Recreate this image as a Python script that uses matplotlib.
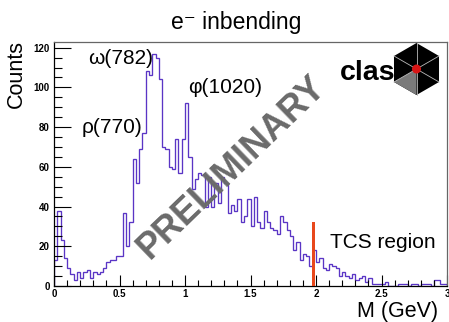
import numpy as np
import matplotlib
matplotlib.use("Agg")
import matplotlib.pyplot as plt
from matplotlib.patches import Circle, Polygon
from matplotlib.ticker import MultipleLocator, FuncFormatter

plt.rcParams['font.family'] = ['Liberation Sans', 'DejaVu Sans']

# ---- data ----
x_min, x_max, n_bins = 0.0, 3.0, 120
counts_0_20 = [13, 38, 23, 14, 9, 6, 3, 7, 4, 7, 8, 4, 7, 6, 7, 9, 12, 13, 13, 15, 15]
counts_21_40 = [37, 20, 32, 64, 52, 69, 77, 108, 106, 117, 115, 104, 70, 69, 60, 59, 74, 57, 74, 92]
counts_41_60 = [65, 49, 54, 57, 56, 40, 55, 40, 52, 42, 55, 52, 37, 41, 38, 44, 32, 35, 44, 30]
counts_61_80 = [45, 32, 29, 38, 32, 29, 28, 26, 35, 32, 28, 25, 18, 22, 13, 16, 15, 10, 18, 12]
counts_81_100 = [14, 9, 8, 11, 10, 9, 5, 7, 5, 4, 6, 3, 4, 5, 2, 4, 1, 1, 1, 1]
counts_101_119 = [2, 0, 0, 0, 1, 1, 1, 0, 1, 1, 0, 1, 1, 1, 0, 3, 3, 1, 1]
counts = np.array(counts_0_20 + counts_21_40 + counts_41_60 + counts_61_80 +
                  counts_81_100 + counts_101_119, dtype=float)
edges = np.linspace(x_min, x_max, n_bins + 1)

tcs_x = 1.98
tcs_height = 32

peak_labels = ["ω(782)", "ρ(770)", "φ(1020)"]

# ---- figure ----
W, H = 449, 322
fig = plt.figure(figsize=(W / 100, H / 100), dpi=100)
L, R, T, B = 54, 447, 42, 286
ax = fig.add_axes([L / W, 1 - B / H, (R - L) / W, (B - T) / H])

ax.stairs(counts, edges, baseline=0, color='#5a35c5', lw=0.95, fill=False)
ax.bar([tcs_x], [tcs_height], width=0.025, color='#e8481c', align='center', zorder=3)

ax.set_xlim(x_min, x_max)
ax.set_ylim(0, counts.max() * 1.05)

ax.xaxis.set_major_locator(MultipleLocator(0.5))
ax.xaxis.set_minor_locator(MultipleLocator(0.1))
ax.yaxis.set_major_locator(MultipleLocator(20))
ax.yaxis.set_minor_locator(MultipleLocator(5))
ax.tick_params(axis='both', which='both', direction='in', top=False, right=False,
               colors='black', width=0.8)
ax.tick_params(axis='y', which='major', length=12, labelsize=7, pad=3)
ax.tick_params(axis='y', which='minor', length=6)
ax.tick_params(axis='x', which='major', length=8, labelsize=7, pad=2)
ax.tick_params(axis='x', which='minor', length=4)
ax.xaxis.set_major_formatter(FuncFormatter(lambda v, p: ('%g' % v)))
for lab in ax.get_xticklabels() + ax.get_yticklabels():
    lab.set_fontweight('bold')
for s in ['top', 'right']:
    ax.spines[s].set_color('#666666')
for s in ['left', 'bottom']:
    ax.spines[s].set_color('black')
for s in ax.spines.values():
    s.set_linewidth(0.9)

# texts
fig.text(236 / W, 1 - 22 / H, "e⁻ inbending", ha='center', va='center', fontsize=16.5)
fig.text(16 / W, 1 - 40 / H, "Counts", rotation=90, ha='center', va='top', fontsize=15.5)
fig.text(438 / W, 1 - 312 / H, "M (GeV)", ha='right', va='center', fontsize=15.5)

ax.text(0.26, 114.5, peak_labels[0], ha='left', va='center', fontsize=15)
ax.text(0.214, 80, peak_labels[1], ha='left', va='center', fontsize=15)
ax.text(1.023, 100, peak_labels[2], ha='left', va='center', fontsize=15)
ax.text(2.107, 22, "TCS region", ha='left', va='center', fontsize=15)

# overlay in pixel coordinates
ov = fig.add_axes([0, 0, 1, 1], facecolor='none')
ov.set_xlim(0, W)
ov.set_ylim(H, 0)
ov.axis('off')

ov.text(232, 167, "PRELIMINARY", rotation=44, ha='center', va='center',
        fontsize=26, fontweight='bold', color='#6a6a6a',
        rotation_mode='anchor')

# clas logo
cx, cy, r = 416.5, 69, 26
hexv = [(cx + r * np.cos(np.radians(90 + 60 * k)), cy - r * np.sin(np.radians(90 + 60 * k)))
        for k in range(6)]
ov.add_patch(Polygon(hexv, closed=True, facecolor='black', edgecolor='none', zorder=5))
ov.add_patch(Polygon([(cx, cy), hexv[2], hexv[3]], closed=True, facecolor='#7a7a7a',
                     edgecolor='none', zorder=6))
for v in hexv:
    ov.plot([cx, v[0]], [cy, v[1]], color='#bbbbbb', lw=0.6, zorder=7)
ov.text(368, 73, "clas", ha='center', va='center', fontsize=20.5, fontweight='bold',
        color='black', zorder=8)
ov.add_patch(Circle((cx, cy), 4.5, facecolor='#d81515', edgecolor='none', zorder=9))

fig.savefig("out.png", dpi=100)
